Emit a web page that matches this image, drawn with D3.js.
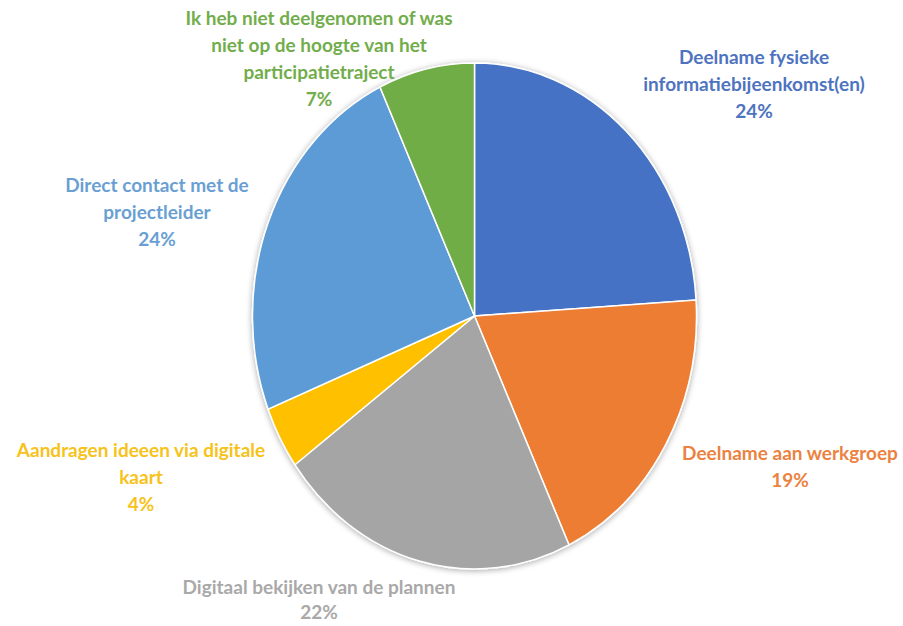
<!DOCTYPE html>
<html>
<head>
<meta charset="utf-8">
<style>
  body { margin: 0; background: #fff; }
  text { font-family: Lato, "Open Sans", sans-serif; font-weight: bold; font-size: 19px; }
</style>
</head>
<body>
<svg id="chart" width="903" height="626"></svg>
<script src="https://d3js.org/d3.v7.min.js"></script>
<script>

var categories = [
  "Deelname fysieke informatiebijeenkomst(en)",
  "Deelname aan werkgroep",
  "Digitaal bekijken van de plannen",
  "Aandragen ideeen via digitale kaart",
  "Direct contact met de projectleider",
  "Ik heb niet deelgenomen of was niet op de hoogte van het participatietraject"
];
var values = [24, 19, 22, 4, 24, 7];
var labelLines = [
  ["Deelname fysieke", "informatiebijeenkomst(en)"],
  ["Deelname aan werkgroep"],
  ["Digitaal bekijken van de plannen"],
  ["Aandragen ideeen via digitale", "kaart"],
  ["Direct contact met de", "projectleider"],
  ["Ik heb niet deelgenomen of was", "niet op de hoogte van het", "participatietraject"]
];
var colors = ["#4472C4", "#ED7D31", "#A5A5A5", "#FFC000", "#5B9BD5", "#70AD47"];
var labelColors = ["#4e74c0", "#ec823f", "#a9a9a9", "#f7c21a", "#6a9fd3", "#72ad4c"];

var svg = d3.select("#chart"),
    cx = 474.5, cy = 316,
    rx = 222, ry = 253;

// soft shadow round the pie
var defs = svg.append("defs");
var f = defs.append("filter").attr("id", "shadow")
    .attr("x", "-10%").attr("y", "-10%").attr("width", "120%").attr("height", "120%");
f.append("feGaussianBlur").attr("in", "SourceAlpha").attr("stdDeviation", 3);
f.append("feOffset").attr("dx", 0).attr("dy", 1).attr("result", "b");
f.append("feComponentTransfer").append("feFuncA").attr("type", "linear").attr("slope", 0.35);
var m = f.append("feMerge");
m.append("feMergeNode");
m.append("feMergeNode").attr("in", "SourceGraphic");

var pie = d3.pie().sort(null).value(function(d) { return d; });
var arc = d3.arc().innerRadius(0).outerRadius(rx);

var g = svg.append("g")
    .attr("transform", "translate(" + cx + "," + cy + ") scale(1," + (ry / rx) + ")")
    .attr("filter", "url(#shadow)");

g.selectAll("path")
  .data(pie(values))
  .enter().append("path")
    .attr("d", arc)
    .attr("fill", function(d, i) { return colors[i]; })
    .attr("stroke", "#fff")
    .attr("stroke-width", 1.5)
    .attr("vector-effect", "non-scaling-stroke")
    .append("title").text(function(d, i) { return categories[i]; });

// label anchors (center x, y of first line)
var labelPos = [
  [754, 57], [790, 453], [319, 587], [141, 450], [157, 185], [319, 18]
];
var lineH = 27;

var labels = svg.append("g");
values.forEach(function(v, i) {
  var lines = labelLines[i].concat([v + "%"]);
  var t = labels.append("text")
      .attr("text-anchor", "middle")
      .attr("fill", labelColors[i]);
  lines.forEach(function(s, j) {
    t.append("tspan")
      .attr("x", labelPos[i][0])
      .attr("y", labelPos[i][1] + j * (i == 2 ? 25 : lineH))
      .attr("dy", "0.35em")
      .text(s);
  });
});

</script>
</body>
</html>
